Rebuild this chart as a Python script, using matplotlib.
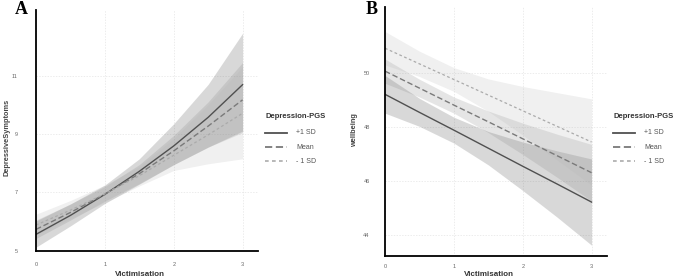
import numpy as np
import matplotlib
matplotlib.use("Agg")
import matplotlib.pyplot as plt
from matplotlib.lines import Line2D

plt.rcParams["font.family"] = ["Liberation Sans", "DejaVu Sans"]

# ── data ─────────────────────────────────────────────────
x = [0, 0.5, 1, 1.5, 2, 2.5, 3]

# panel A : DepressiveSymptoms
a_plus      = [5.56, 6.21, 6.93, 7.72, 8.59, 9.57, 10.69]
a_plus_lo   = [5.12, 5.85, 6.62, 7.28, 7.95, 8.55, 9.10]
a_plus_hi   = [6.02, 6.60, 7.25, 8.15, 9.35, 10.70, 12.45]
a_mean      = [5.73, 6.31, 6.94, 7.64, 8.42, 9.27, 10.17]
a_mean_lo   = [5.42, 6.05, 6.70, 7.30, 7.95, 8.55, 9.05]
a_mean_hi   = [6.05, 6.60, 7.20, 7.95, 8.95, 10.10, 11.45]
a_minus     = [5.88, 6.39, 6.95, 7.57, 8.27, 8.97, 9.71]
a_minus_lo  = [5.55, 6.10, 6.65, 7.22, 7.75, 7.98, 8.15]
a_minus_hi  = [6.25, 6.72, 7.25, 7.88, 8.85, 10.00, 11.30]

# panel B : wellbeing
b_plus      = [49.22, 48.55, 47.89, 47.22, 46.55, 45.89, 45.22]
b_plus_lo   = [48.52, 48.03, 47.41, 46.60, 45.65, 44.66, 43.62]
b_plus_hi   = [49.92, 49.07, 48.37, 47.84, 47.45, 47.12, 46.82]
b_mean      = [50.08, 49.45, 48.82, 48.20, 47.57, 46.94, 46.31]
b_mean_lo   = [49.63, 49.12, 48.52, 47.80, 46.99, 46.14, 45.26]
b_mean_hi   = [50.53, 49.78, 49.12, 48.60, 48.15, 47.74, 47.36]
b_minus     = [50.93, 50.35, 49.77, 49.19, 48.61, 48.03, 47.45]
b_minus_lo  = [50.31, 49.88, 49.33, 48.59, 47.71, 46.78, 45.85]
b_minus_hi  = [51.55, 50.82, 50.21, 49.79, 49.51, 49.28, 49.05]

labels = ["+1 SD", "Mean", "- 1 SD"]

# ── styles ───────────────────────────────────────────────
LINE_C = ["#505050", "#7a7a7a", "#ababab"]
LINE_LS = ["-", (0, (4, 2)), (0, (2.2, 2))]
LINE_W = [1.0, 1.0, 0.9]
FILL_C = ["#404040", "#808080", "#b4b4b4"]
FILL_A = 0.2
TICK_C = "#666666"

fig = plt.figure(figsize=(6.76, 2.8), dpi=100)
W, H = 676, 280


def px_axes(l, t, r, b):
    return fig.add_axes([l / W, 1 - b / H, (r - l) / W, (b - t) / H])


def style(ax, ylim, yticks, xpad, ypad):
    ax.set_xlim(0, 3.22)
    ax.set_ylim(*ylim)
    ax.set_xticks([0, 1, 2, 3])
    ax.set_yticks(yticks)
    ax.set_xticklabels(["0", "1", "2", "3"])
    ax.set_yticklabels([str(v) for v in yticks])
    for s in ["top", "right"]:
        ax.spines[s].set_visible(False)
    for s in ["left", "bottom"]:
        ax.spines[s].set_linewidth(1.3)
        ax.spines[s].set_color("black")
    ax.tick_params(length=0, labelsize=4, labelcolor=TICK_C)
    ax.tick_params(axis="x", pad=xpad)
    ax.tick_params(axis="y", pad=ypad)
    ax.grid(True, color="#e4e4e4", lw=0.5, ls=(0, (2, 2)))
    ax.set_axisbelow(True)


def draw(ax, series):
    for i, (y, lo, hi) in enumerate(series):
        ax.fill_between(x, lo, hi, color=FILL_C[i], alpha=FILL_A, lw=0)
    for i, (y, lo, hi) in enumerate(series):
        ax.plot(x, y, color=LINE_C[i], ls=LINE_LS[i], lw=LINE_W[i])


def legend(x0, y0):
    fig.text(x0 / W, 1 - y0 / H, "Depression-PGS", fontsize=5.5,
             fontweight="bold", color="#333333", va="center", ha="left")
    for i, lab in enumerate(labels):
        yy = 1 - (y0 + 17 + 14.2 * i) / H
        fig.add_artist(Line2D([x0 / W, (x0 + 22) / W], [yy, yy],
                              color=LINE_C[i], ls=LINE_LS[i], lw=LINE_W[i] + 0.3,
                              transform=fig.transFigure))
        fig.text((x0 + 31) / W, yy, lab, fontsize=5, color="#555555",
                 va="center", ha="left")


# ── (A) ──────────────────────────────────────────────────
axA = px_axes(36, 10, 257.7, 250.7)
style(axA, (5, 13.25), [5, 7, 9, 11], 8, 13)
draw(axA, [(a_plus, a_plus_lo, a_plus_hi),
           (a_mean, a_mean_lo, a_mean_hi),
           (a_minus, a_minus_lo, a_minus_hi)])
fig.text(7 / W, 1 - 137 / H, "DepressiveSymptoms", rotation=90, fontsize=5.3,
         fontweight="bold", color="#444444", ha="center", va="center")
fig.text(140 / W, 1 - 275 / H, "Victimisation", fontsize=5.8,
         fontweight="bold", color="#333333", ha="center", va="center")
fig.text(21 / W, 1 - 9 / H, "A", fontsize=13, fontweight="bold",
         family="Liberation Serif", ha="center", va="center")
legend(265, 116)

# ── (B) ──────────────────────────────────────────────────
axB = px_axes(385, 7, 606.7, 255.7)
style(axB, (43.23, 52.46), [44, 46, 48, 50], 6, 11)
draw(axB, [(b_plus, b_plus_lo, b_plus_hi),
           (b_mean, b_mean_lo, b_mean_hi),
           (b_minus, b_minus_lo, b_minus_hi)])
fig.text(355 / W, 1 - 130 / H, "wellbeing", rotation=90, fontsize=5.3,
         fontweight="bold", color="#444444", ha="center", va="center")
fig.text(489 / W, 1 - 275 / H, "Victimisation", fontsize=5.8,
         fontweight="bold", color="#333333", ha="center", va="center")
fig.text(372 / W, 1 - 9 / H, "B", fontsize=13, fontweight="bold",
         family="Liberation Serif", ha="center", va="center")
legend(613, 116)

fig.savefig("out.png", dpi=100, facecolor="white")
